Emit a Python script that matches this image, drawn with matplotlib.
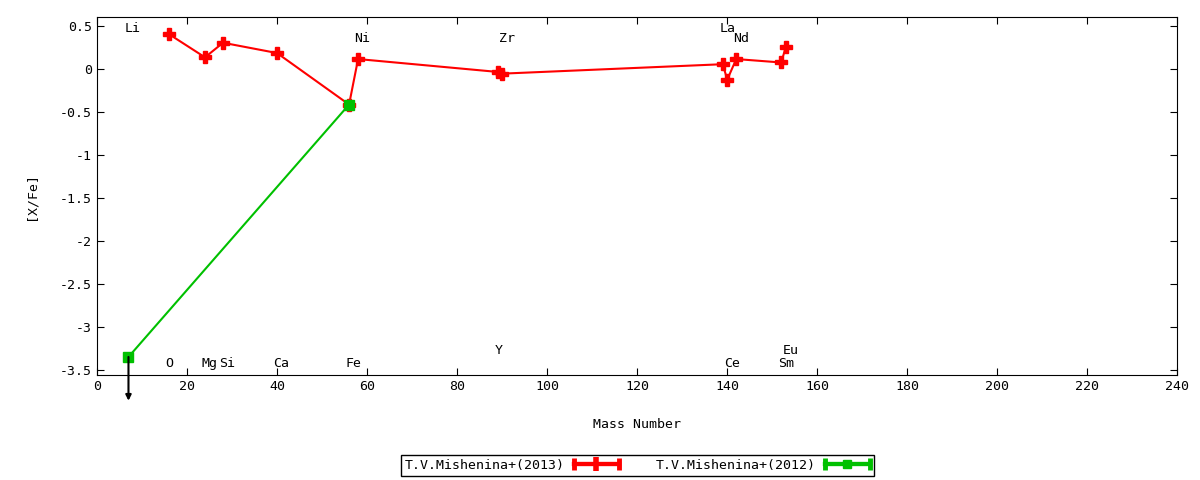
import numpy as np
import matplotlib
matplotlib.use("Agg")
import matplotlib.pyplot as plt
from matplotlib.lines import Line2D
from matplotlib.legend_handler import HandlerLine2D, HandlerTuple

plt.rcParams['font.family'] = ['DejaVu Sans Mono']
plt.rcParams['font.size'] = 9.5
plt.rcParams['axes.unicode_minus'] = False

# T.V.Mishenina+(2013)
mass_2013 = [16, 24, 28, 40, 56, 58, 89, 90, 139, 140, 142, 152, 153]
xfe_2013 = [0.41, 0.14, 0.31, 0.19, -0.41, 0.12, -0.03, -0.05, 0.06, -0.12, 0.12, 0.08, 0.26]

# T.V.Mishenina+(2012)
mass_2012 = [7, 56]
xfe_2012 = [-3.35, -0.41]

# element labels: name, x, y
el_names = ['Li', 'Ni', 'Zr', 'La', 'Nd', 'O', 'Mg', 'Si', 'Ca', 'Fe', 'Y', 'Ce', 'Sm', 'Eu']
el_x = [8, 59, 91, 140, 143, 16, 25, 29, 41, 57, 89.3, 141, 153, 154]
el_y = [0.48, 0.36, 0.36, 0.48, 0.36, -3.43, -3.43, -3.43, -3.43, -3.43, -3.27, -3.43, -3.43, -3.27]

red = '#ff0000'
green = '#00c000'

fig = plt.figure(figsize=(12, 4.8), dpi=100)
ax = fig.add_axes([0.0808, 0.2188, 0.9004, 0.7458])

l1, = ax.plot(mass_2013, xfe_2013, color=red, lw=1.5, marker='P', ms=9)
l2, = ax.plot(mass_2012, xfe_2012, color=green, lw=1.5, marker='s', ms=7)

# upper limit arrow for Li
ax.annotate('', xy=(7, -3.86), xytext=(7, -3.35), annotation_clip=False,
            arrowprops=dict(arrowstyle='-|>', color='black', lw=1.5,
                            mutation_scale=8, shrinkA=0, shrinkB=0))

for n, x, y in zip(el_names, el_x, el_y):
    ax.text(x, y, n, ha='center', va='center')

ax.set_xlim(0, 240)
ax.set_ylim(-3.56, 0.61)
ax.set_xticks(np.arange(0, 241, 20))
ax.set_yticks([0.5, 0, -0.5, -1, -1.5, -2, -2.5, -3, -3.5])
ax.set_yticklabels(['0.5', '0', '-0.5', '-1', '-1.5', '-2', '-2.5', '-3', '-3.5'])
ax.tick_params(direction='in', top=True, right=True, length=5)
ax.set_xlabel('Mass Number', labelpad=18)
ax.set_ylabel('[X/Fe]', labelpad=16)

# legend samples with end caps like gnuplot errorlines
cap1 = Line2D([], [], color=red, lw=3, marker='|', ms=9, mew=3.5)
cap2 = Line2D([], [], color=green, lw=3, marker='|', ms=9, mew=3.5)
mid1 = Line2D([], [], color=red, lw=3, marker='|', ms=10, mew=4)
mid2 = Line2D([], [], color=green, lw=3, marker='s', ms=6)
hmap = {tuple: HandlerTuple(ndivide=1, pad=0),
        cap1: HandlerLine2D(numpoints=2, marker_pad=0),
        cap2: HandlerLine2D(numpoints=2, marker_pad=0)}
leg = ax.legend([(cap1, mid1), (cap2, mid2)],
                ['T.V.Mishenina+(2013)', 'T.V.Mishenina+(2012)'],
                handler_map=hmap,
                loc='center', bbox_to_anchor=(0.5, -0.253), ncol=2,
                markerfirst=False, fancybox=False, edgecolor='black',
                framealpha=1, handlelength=3.4, handletextpad=0.7,
                columnspacing=2.8, borderpad=0.3, borderaxespad=0)
leg.get_frame().set_linewidth(1.0)

fig.savefig('out.png', dpi=100)
